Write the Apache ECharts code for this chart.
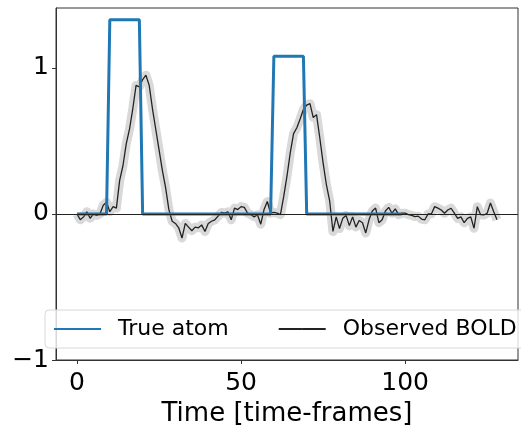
<!DOCTYPE html>
<html><head><meta charset="utf-8">
<script src="https://cdn.jsdelivr.net/npm/echarts@6/dist/echarts.min.js"></script>
<style>html,body{margin:0;padding:0;background:#fff}#c{width:521px;height:425px}</style>
</head><body><div id="c"></div>
<script>
// True atom (time-frames 0..99)
const atomValues = [
  0,0,0,0,0,0,0,0,0,0,
  1.33,1.33,1.33,1.33,1.33,1.33,1.33,1.33,1.33,1.33,
  0,0,0,0,0,0,0,0,0,0,
  0,0,0,0,0,0,0,0,0,0,
  0,0,0,0,0,0,0,0,0,0,
  0,0,0,0,0,0,0,0,0,0,
  1.08,1.08,1.08,1.08,1.08,1.08,1.08,1.08,1.08,1.08,
  0,0,0,0,0,0,0,0,0,0,
  0,0,0,0,0,0,0,0,0,0,
  0,0,0,0,0,0,0,0,0,0
];
// Observed BOLD (time-frames 0..128)
const boldValues = [
  0.00,-0.04,-0.02,0.015,-0.03,0.00,-0.01,0.00,0.06,0.08,
  0.015,0.05,0.04,0.23,0.33,0.48,0.58,0.72,0.88,0.87,
  0.92,0.95,0.88,0.72,0.58,0.44,0.30,0.18,0.03,-0.05,
  -0.065,-0.095,-0.165,-0.065,-0.09,-0.115,-0.09,-0.095,-0.075,-0.12,
  -0.065,-0.05,-0.04,-0.015,0.01,0.005,0.015,-0.04,0.04,0.03,
  0.05,0.045,0.005,-0.005,-0.02,-0.005,-0.07,0.03,0.085,0.005,
  0.01,0.005,-0.005,0.12,0.26,0.42,0.55,0.59,0.65,0.715,
  0.745,0.755,0.66,0.68,0.52,0.35,0.20,0.09,-0.12,-0.02,
  -0.10,-0.03,-0.01,-0.08,-0.02,-0.09,-0.045,-0.06,-0.13,-0.04,
  0.02,0.04,-0.06,-0.04,0.02,0.045,0.005,0.035,-0.005,0.005,
  0.005,-0.005,-0.01,-0.018,-0.015,-0.035,-0.04,0.00,0.00,0.05,
  0.04,0.027,0.005,0.027,0.039,0.005,-0.03,-0.02,-0.06,-0.03,
  -0.02,-0.098,0.05,-0.005,-0.007,0.005,0.075,0.015,-0.04
];
const xTicks = [0, 50, 100];
const yTicks = [-1, 0, 1];
const legendNames = ['True atom', 'Observed BOLD'];

const atomData = atomValues.map((v, i) => [i, v]);
const boldData = boldValues.map((v, i) => [i, v]);
const font = 'DejaVu Sans';

const chart = echarts.init(document.getElementById('c'), null, {renderer: 'canvas'});
chart.setOption({
  animation: false,
  backgroundColor: '#fff',
  grid: {left: 56, right: 3, top: 8, bottom: 65, show: true, borderColor: '#333', borderWidth: 1,
    backgroundColor: 'transparent', containLabel: false, outerBoundsMode: 'none'},
  xAxis: {
    type: 'value', min: -6.4, max: 134.4,
    splitLine: {show: false},
    axisLine: {show: true, onZero: false, lineStyle: {color: '#333', width: 1}},
    axisTick: {show: true, length: 4, customValues: xTicks, lineStyle: {color: '#333'}},
    axisLabel: {customValues: xTicks, fontSize: 25, color: '#000', margin: 11, fontFamily: font},
    name: 'Time [time-frames]', nameLocation: 'middle', nameGap: 40,
    nameTextStyle: {fontSize: 26, color: '#000', fontFamily: font}
  },
  yAxis: {
    type: 'value', min: -1, max: 1.41,
    splitLine: {show: false},
    axisLine: {show: true, onZero: false, lineStyle: {color: '#333', width: 1}},
    axisTick: {show: true, length: 4, customValues: yTicks, lineStyle: {color: '#333'}},
    axisLabel: {customValues: yTicks, fontSize: 25, color: '#000', margin: 7, fontFamily: font,
      formatter: v => String(v).replace('-', '\u2212')}
  },
  graphic: [{
    type: 'rect', z: 50, silent: true,
    shape: {x: 45, y: 310, width: 500, height: 38, r: 4},
    style: {fill: 'rgba(255,255,255,0.8)', stroke: '#d8d8d8', lineWidth: 1}
  }],
  legend: {
    data: legendNames, left: 45, top: 310, orient: 'horizontal', z: 60,
    padding: [8, 0, 14, 8], itemWidth: 47, itemHeight: 2, itemGap: 49,
    textStyle: {fontSize: 22, color: '#000', fontFamily: font, padding: [0, 0, 0, 12]}
  },
  series: [
    {
      name: 'band', type: 'line', data: boldData, symbol: 'none', silent: true, z: 1,
      lineStyle: {color: '#d9d9d9', width: 9, join: 'round'},
      markLine: {silent: true, symbol: 'none', label: {show: false},
        lineStyle: {color: '#222', width: 1, type: 'solid'}, data: [{yAxis: 0}]}
    },
    {
      name: 'Observed BOLD', type: 'line', data: boldData, symbol: 'none', z: 3,
      lineStyle: {color: '#222', width: 1.3}, itemStyle: {color: '#444'}
    },
    {
      name: 'True atom', type: 'line', data: atomData, symbol: 'none', z: 4,
      lineStyle: {color: '#1f77b4', width: 3}, itemStyle: {color: '#1f77b4'}
    }
  ]
});
</script>
</body></html>
